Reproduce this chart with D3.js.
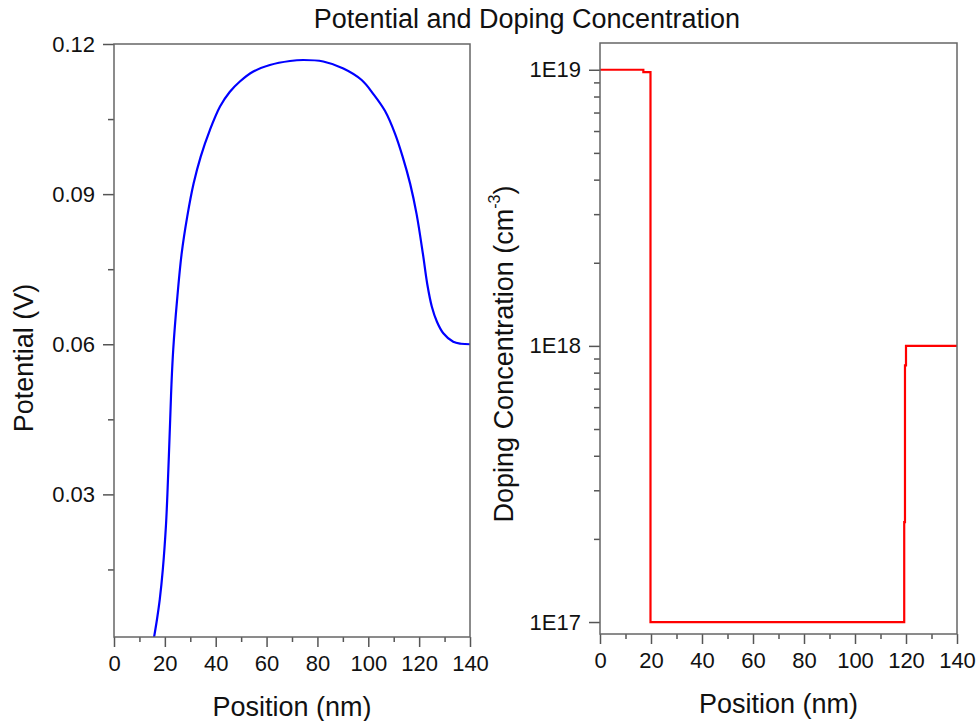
<!DOCTYPE html>
<html>
<head>
<meta charset="utf-8">
<script src="https://cdn.jsdelivr.net/npm/d3@7"></script>
<style>
  body { margin: 0; background: #fff; }
  svg { display: block; font-family: "Liberation Sans", Arial, sans-serif; }
  .axis path, .axis line { stroke: #555; stroke-width: 1.5; }
  .axis text { fill: #111; font-size: 22px; }
  .label { font-size: 27px; fill: #111; }
</style>
</head>
<body>
<svg id="chart" width="976" height="721"></svg>
<script>
// potential profile (nm, V)
let potX = [15.6, 16.9, 18.0, 19.2, 20.4, 21.0, 22.1, 22.6, 23.3, 24.8, 26.6, 28.8, 31.3, 34.1, 37.7, 41.7,
            45.5, 49.5, 54.8, 61.3, 69.2, 74.4, 82.3, 90.2, 97.4, 102.0, 106.6, 110.5, 113.5, 116.5, 119.0, 121.5,
            123.2, 125.0, 127.0, 129.5, 133.4, 136.5, 140];
let potY = [0.0010, 0.0050, 0.0090, 0.0150, 0.0235, 0.0300, 0.0450, 0.0520, 0.0590, 0.0688, 0.0781,
            0.0855, 0.0921, 0.0975, 0.1028, 0.1075, 0.1104, 0.1125, 0.1145, 0.1158, 0.1166, 0.1168, 0.1165, 0.1151,
            0.1128, 0.1100, 0.1066, 0.1021, 0.0975, 0.0920, 0.0860, 0.0780, 0.0720, 0.0675, 0.0645, 0.0622,
            0.0605, 0.0601, 0.0600];

// doping profile (nm, cm^-3), step shaped
let dopX = [0, 17.0, 17.0, 19.8, 19.8, 119.3, 119.3, 119.6, 119.6, 120.0, 120.0, 140];
let dopY = [1e19, 1e19, 9.8e18, 9.8e18, 1e17, 1e17, 2.3e17, 2.3e17, 8.5e17, 8.5e17, 1e18, 1e18];

let xTicks = [0, 20, 40, 60, 80, 100, 120, 140];
let xMinor = [10, 30, 50, 70, 90, 110, 130];
let potTicks = [0.03, 0.06, 0.09, 0.12];
let potMinor = [0.015, 0.045, 0.075, 0.105];
let dopTicks = [1e17, 1e18, 1e19];

let svg = d3.select("#chart");

// title
svg.append("text")
    .attr("class", "label")
    .attr("x", 527).attr("y", 28)
    .attr("text-anchor", "middle")
    .text("Potential and Doping Concentration");

function frame(g, x0, x1, y0, y1){
    g.append("rect")
        .attr("x", x0).attr("y", y0)
        .attr("width", x1 - x0).attr("height", y1 - y0)
        .attr("fill", "none").attr("stroke", "#666").attr("stroke-width", 1.5);
}

function bottomAxis(g, x, y1){
    g.append("g").attr("class", "axis")
        .attr("transform", `translate(0,${y1})`)
        .call(d3.axisBottom(x).tickValues(xTicks).tickSize(10).tickSizeOuter(0).tickPadding(8).tickFormat(d3.format("d")))
        .call(a => a.select(".domain").remove());
    g.append("g").attr("class", "axis")
        .attr("transform", `translate(0,${y1})`)
        .call(d3.axisBottom(x).tickValues(xMinor).tickSize(5).tickFormat(""))
        .call(a => a.select(".domain").remove());
}

// ---------- left: potential ----------
let L = {x0: 114, x1: 470, y0: 44, y1: 637};
let xL = d3.scaleLinear().domain([0, 140]).range([L.x0, L.x1]);
let yL = d3.scaleLinear().domain([0.0015, 0.12]).range([L.y1, L.y0]);

let gL = svg.append("g");
gL.append("clipPath").attr("id", "clipL")
    .append("rect").attr("x", L.x0).attr("y", L.y0).attr("width", L.x1 - L.x0).attr("height", L.y1 - L.y0);

gL.append("path")
    .datum(potX.map((v, i) => [v, potY[i]]))
    .attr("clip-path", "url(#clipL)")
    .attr("fill", "none").attr("stroke", "#0000ff").attr("stroke-width", 2.2)
    .attr("d", d3.line().x(d => xL(d[0])).y(d => yL(d[1])).curve(d3.curveCatmullRom.alpha(0.5)));

gL.append("g").attr("class", "axis")
    .attr("transform", `translate(${L.x0},0)`)
    .call(d3.axisLeft(yL).tickValues(potTicks).tickSize(11).tickSizeOuter(0).tickPadding(8).tickFormat(d3.format(".2f")))
    .call(a => a.select(".domain").remove());
gL.append("g").attr("class", "axis")
    .attr("transform", `translate(${L.x0},0)`)
    .call(d3.axisLeft(yL).tickValues(potMinor).tickSize(6).tickFormat(""))
    .call(a => a.select(".domain").remove());
bottomAxis(gL, xL, L.y1);
frame(gL, L.x0, L.x1, L.y0, L.y1);

gL.append("text")
    .attr("class", "label")
    .attr("transform", `translate(33,358) rotate(-90)`)
    .attr("text-anchor", "middle")
    .text("Potential (V)");
gL.append("text")
    .attr("class", "label")
    .attr("x", (L.x0 + L.x1) / 2).attr("y", 716)
    .attr("text-anchor", "middle")
    .text("Position (nm)");

// ---------- right: doping ----------
let R = {x0: 600, x1: 957, y0: 43, y1: 634};
let xR = d3.scaleLinear().domain([0, 140]).range([R.x0, R.x1]);
let yR = d3.scaleLog().domain([9.05e16, 1.25e19]).range([R.y1, R.y0]);

let dopMinor = [];
for (let e = 16; e <= 18; e++) for (let k = 2; k <= 9; k++) {
    let v = k * Math.pow(10, e);
    if (v >= yR.domain()[0] && v <= yR.domain()[1]) dopMinor.push(v);
}

let gR = svg.append("g");
gR.append("path")
    .datum(dopX.map((v, i) => [v, dopY[i]]))
    .attr("fill", "none").attr("stroke", "#ff0000").attr("stroke-width", 2.2)
    .attr("d", d3.line().x(d => xR(d[0])).y(d => yR(d[1])));

gR.append("g").attr("class", "axis")
    .attr("transform", `translate(${R.x0},0)`)
    .call(d3.axisLeft(yR).tickValues(dopTicks).tickSize(11).tickSizeOuter(0).tickPadding(8)
        .tickFormat(d => "1E" + Math.round(Math.log10(d))))
    .call(a => a.select(".domain").remove());
gR.append("g").attr("class", "axis")
    .attr("transform", `translate(${R.x0},0)`)
    .call(d3.axisLeft(yR).tickValues(dopMinor).tickSize(6).tickFormat(""))
    .call(a => a.select(".domain").remove());
bottomAxis(gR, xR, R.y1);
frame(gR, R.x0, R.x1, R.y0, R.y1);

let yt = gR.append("text")
    .attr("class", "label")
    .attr("transform", `translate(513,354) rotate(-90)`)
    .attr("text-anchor", "middle");
yt.append("tspan").text("Doping Concentration (cm");
yt.append("tspan").attr("dy", -13).style("font-size", "16px").text("-3");
yt.append("tspan").attr("dy", 13).text(")");

gR.append("text")
    .attr("class", "label")
    .attr("x", (R.x0 + R.x1) / 2).attr("y", 713)
    .attr("text-anchor", "middle")
    .text("Position (nm)");
</script>
</body>
</html>
